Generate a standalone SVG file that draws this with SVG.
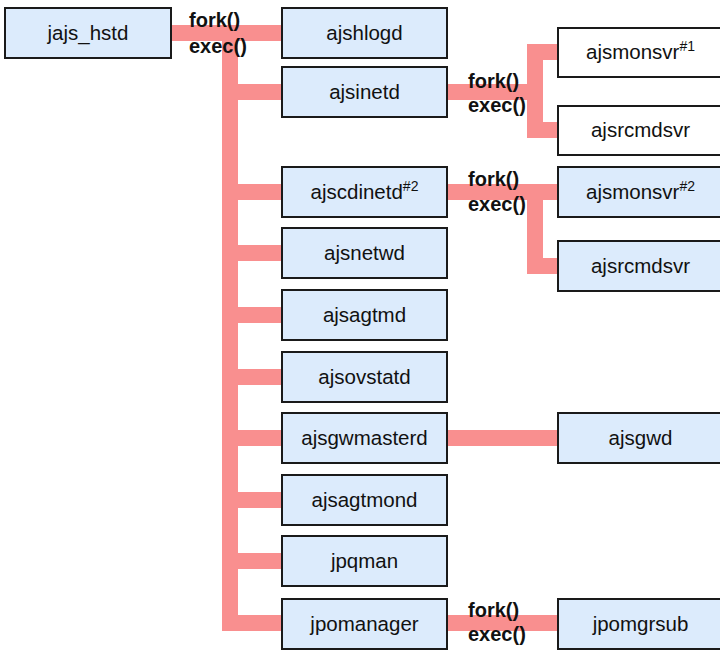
<svg xmlns="http://www.w3.org/2000/svg" width="720" height="651" viewBox="0 0 720 651">
<style>
.n{fill:#DCEBFC;stroke:#1a1a1a;stroke-width:2}
.w{fill:#ffffff;stroke:#1a1a1a;stroke-width:2}
.t{font-family:"Liberation Sans",Arial,sans-serif;font-size:20.5px;fill:#111;text-anchor:middle}
.s{font-size:14px}
.l{font-family:"Liberation Sans",Arial,sans-serif;font-size:20px;font-weight:bold;fill:#111}
.c{fill:none;stroke:#F98F8F;stroke-width:16;stroke-linejoin:miter;stroke-linecap:butt}
</style>
<rect width="720" height="651" fill="#ffffff"/>
<g id="connectors">
<path class="c" d="M171,33 H282"/>
<path class="c" d="M230,33 V623 H282"/>
<path class="c" d="M230,92 H282 M230,192 H282 M230,253 H282 M230,315 H282 M230,377 H282 M230,438 H282 M230,500 H282 M230,561 H282"/>
<path class="c" d="M447,92 H535"/>
<path class="c" d="M558,52 H535 V130 H558"/>
<path class="c" d="M447,192 H558"/>
<path class="c" d="M535,192 V266 H558"/>
<path class="c" d="M447,438 H558"/>
<path class="c" d="M447,623 H558"/>
</g>
<g id="labels">
<text class="l" x="189" y="27">fork()</text>
<text class="l" x="189" y="53">exec()</text>
<text class="l" x="468" y="88">fork()</text>
<text class="l" x="468" y="112">exec()</text>
<text class="l" x="468" y="186">fork()</text>
<text class="l" x="468" y="211">exec()</text>
<text class="l" x="468" y="617">fork()</text>
<text class="l" x="468" y="641">exec()</text>
</g>
<g id="jajs_hstd"><rect class="n" x="5" y="8" width="166" height="50"/><text class="t" x="88" y="40">jajs_hstd</text></g>
<g id="ajshlogd"><rect class="n" x="282" y="8" width="165" height="50"/><text class="t" x="364.5" y="40">ajshlogd</text></g>
<g id="ajsinetd"><rect class="n" x="282" y="67" width="165" height="50"/><text class="t" x="364.5" y="99">ajsinetd</text></g>
<g id="ajscdinetd"><rect class="n" x="282" y="167" width="165" height="50"/><text class="t" x="364.5" y="199">ajscdinetd<tspan class="s" dy="-8">#2</tspan></text></g>
<g id="ajsnetwd"><rect class="n" x="282" y="228" width="165" height="50"/><text class="t" x="364.5" y="260">ajsnetwd</text></g>
<g id="ajsagtmd"><rect class="n" x="282" y="290" width="165" height="50"/><text class="t" x="364.5" y="322">ajsagtmd</text></g>
<g id="ajsovstatd"><rect class="n" x="282" y="352" width="165" height="50"/><text class="t" x="364.5" y="384">ajsovstatd</text></g>
<g id="ajsgwmasterd"><rect class="n" x="282" y="413" width="165" height="50"/><text class="t" x="364.5" y="445">ajsgwmasterd</text></g>
<g id="ajsagtmond"><rect class="n" x="282" y="475" width="165" height="50"/><text class="t" x="364.5" y="507">ajsagtmond</text></g>
<g id="jpqman"><rect class="n" x="282" y="536" width="165" height="50"/><text class="t" x="364.5" y="568">jpqman</text></g>
<g id="jpomanager"><rect class="n" x="282" y="599" width="165" height="50"/><text class="t" x="364.5" y="631">jpomanager</text></g>
<g id="ajsmonsvr1"><rect class="w" x="558" y="28" width="165" height="49"/><text class="t" x="640.5" y="59">ajsmonsvr<tspan class="s" dy="-8">#1</tspan></text></g>
<g id="ajsrcmdsvr1"><rect class="w" x="558" y="106" width="165" height="49"/><text class="t" x="640.5" y="137">ajsrcmdsvr</text></g>
<g id="ajsmonsvr2"><rect class="n" x="558" y="167" width="165" height="50"/><text class="t" x="640.5" y="199">ajsmonsvr<tspan class="s" dy="-8">#2</tspan></text></g>
<g id="ajsrcmdsvr2"><rect class="n" x="558" y="241" width="165" height="50"/><text class="t" x="640.5" y="273">ajsrcmdsvr</text></g>
<g id="ajsgwd"><rect class="n" x="558" y="413" width="165" height="50"/><text class="t" x="640.5" y="445">ajsgwd</text></g>
<g id="jpomgrsub"><rect class="n" x="558" y="599" width="165" height="50"/><text class="t" x="640.5" y="631">jpomgrsub</text></g>
</svg>
